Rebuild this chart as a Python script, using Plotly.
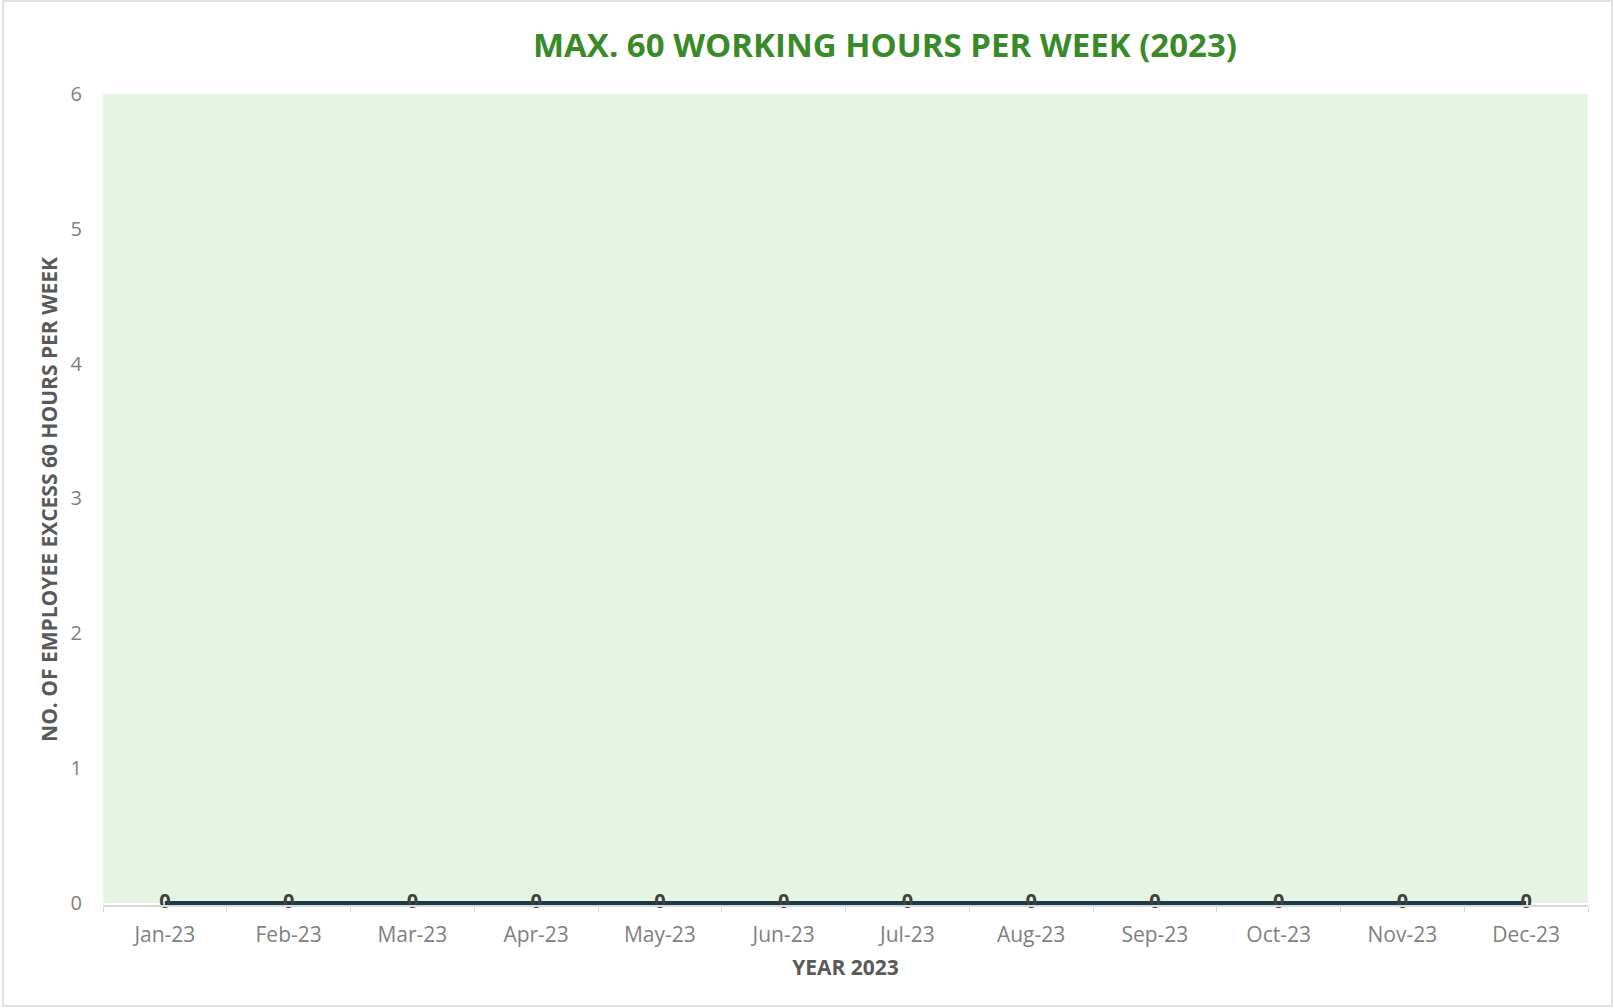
import plotly.graph_objects as go

months = ["Jan-23", "Feb-23", "Mar-23", "Apr-23", "May-23", "Jun-23",
          "Jul-23", "Aug-23", "Sep-23", "Oct-23", "Nov-23", "Dec-23"]
employees_over_60h = [0, 0, 0, 0, 0, 0, 0, 0, 0, 0, 0, 0]
y_ticks = [0, 1, 2, 3, 4, 5, 6]
y_max = 6

W, H = 1614, 1008
L, R, T, B = 103, 26, 94, 103
pw, ph = W - L - R, H - T - B

FONT = "Open Sans"

fig = go.Figure()
fig.add_trace(go.Scatter(
    x=months, y=employees_over_60h,
    mode="lines",
    line=dict(color="#1d3a4a", width=4),
    cliponaxis=False,
    showlegend=False,
))
fig.add_trace(go.Scatter(
    x=months, y=employees_over_60h,
    mode="text",
    text=[str(v) for v in employees_over_60h],
    textposition="middle center",
    textfont=dict(family=FONT, size=20, color="#404040", weight="bold"),
    cliponaxis=False,
    showlegend=False,
))

def px_x(p):
    return (p - L) / pw

def px_y(p):
    return (H - B - p) / ph

# green plot area (from 0 to the top of the value axis)
fig.add_shape(type="rect", xref="paper", yref="y",
              x0=0, x1=1, y0=0, y1=y_max,
              line=dict(width=0), fillcolor="#e6f5e3", layer="below")

# outer chart border
fig.add_shape(type="rect", xref="paper", yref="paper",
              x0=px_x(3), x1=px_x(1612), y0=px_y(1), y1=px_y(1006),
              line=dict(color="#d9d9d9", width=1.5), fillcolor="rgba(0,0,0,0)",
              layer="below")

fig.update_layout(
    width=W, height=H,
    margin=dict(l=L, r=R, t=T, b=B),
    paper_bgcolor="white",
    plot_bgcolor="white",
    title=dict(
        text="<b>MAX. 60 WORKING HOURS PER WEEK (2023)</b>",
        x=885 / W, xanchor="center",
        y=1 - 45 / H, yanchor="middle",
        font=dict(family=FONT, size=33, color="#3a8a2a"),
    ),
    xaxis=dict(
        type="category",
        range=[-0.5, 11.5],
        tickson="boundaries",
        ticks="outside", ticklen=5, tickcolor="#d9d9d9",
        showline=True, linecolor="#d9d9d9", linewidth=1.5,
        showgrid=False, zeroline=False,
        ticklabelstandoff=10,
        tickfont=dict(family=FONT, size=21, color="#7f7f7f"),
        title=dict(text="<b>YEAR 2023</b>", standoff=13,
                   font=dict(family=FONT, size=21, color="#595959")),
    ),
    yaxis=dict(
        range=[-0.015, y_max],
        tickvals=y_ticks,
        showgrid=False, zeroline=False, showline=False,
        ticks="", ticklabelstandoff=20,
        tickfont=dict(family=FONT, size=20, color="#7f7f7f"),
        title=dict(text="<b>NO. OF EMPLOYEE EXCESS 60 HOURS PER WEEK</b>", standoff=7,
                   font=dict(family=FONT, size=21, color="#595959")),
    ),
)

fig.write_html("out.html", config={"displayModeBar": False},
               post_script="document.body.style.margin='0';document.body.style.overflow='hidden';")
